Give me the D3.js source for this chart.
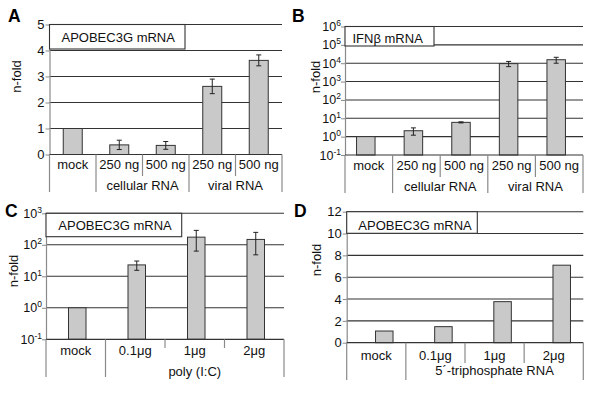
<!DOCTYPE html>
<html><head><meta charset="utf-8">
<script src="https://cdn.jsdelivr.net/npm/d3@7"></script>
<style>body{margin:0;background:#fff} text{font-family:"Liberation Sans",Arial,Helvetica,sans-serif;fill:#111}</style>
</head><body><svg id="c" width="600" height="402"></svg>
<script>
// ---- Data ----
const catsA = ["mock","250 ng","500 ng","250 ng","500 ng"];
const groupOfA = [0,1,1,2,2];
const groupLabelsA = ["","cellular RNA","viral RNA"];
const valuesA = [1,0.37,0.35,2.62,3.62];
const errorsA = [0,0.18,0.15,0.28,0.21];
const ticksA = [0,1,2,3,4,5];

const catsB = ["mock","250 ng","500 ng","250 ng","500 ng"];
const groupOfB = [0,1,1,2,2];
const groupLabelsB = ["","cellular RNA","viral RNA"];
const valuesB = [1,2.1,6.0,9500,15500];
const errorsB = [0,0.9,0.4,3000,5500];
const ticksB = [0.1,1,10,100,1000,10000,100000,1000000];
const tickExpB = ["-1","0","1","2","3","4","5","6"];

const catsC = ["mock","0.1μg","1μg","2μg"];
const groupOfC = [0,1,1,1];
const groupLabelsC = ["","poly (I:C)"];
const valuesC = [1,23,175,148];
const errorsC = [0,7.5,112,100];
const ticksC = [0.1,1,10,100,1000];
const tickExpC = ["-1","0","1","2","3"];

const catsD = ["mock","0.1μg","1μg","2μg"];
const groupOfD = [0,1,1,1];
const groupLabelsD = ["","5´-triphosphate RNA"];
const valuesD = [1.07,1.47,3.76,7.1];
const errorsD = [0,0,0,0];
const ticksD = [0,2,4,6,8,10,12];

// ---- Panels (layout/style) ----
const panels = [
 {letter:"A", lx:8, ly:22, x0:49.5, x1:282, yTop:24.5, yBot:154.5, log:false, domain:[0,5],
  ticks:ticksA, exps:null, cats:catsA, groups:groupOfA, glabels:groupLabelsA, values:valuesA, errors:errorsA,
  title:"APOBEC3G mRNA", box:[49.5,24.5,185,49], tx:61.5, ty:41.5, barW:19, shift:0,
  row1:168.5, row2:190, longBot:192, shortBot:176, nf:[16.5,76.5]},
 {letter:"B", lx:292, ly:22, x0:345, x1:583, yTop:26.5, yBot:155, log:true, domain:[0.1,1e6],
  ticks:ticksB, exps:tickExpB, cats:catsB, groups:groupOfB, glabels:groupLabelsB, values:valuesB, errors:errorsB,
  title:"IFNβ mRNA", box:[345,26.5,434,46], tx:352.5, ty:43, barW:18.5, shift:-3,
  row1:169.5, row2:191, longBot:193, shortBot:177, nf:[315,77]},
 {letter:"C", lx:5, ly:216.5, x0:46, x1:284, yTop:213.3, yBot:339.3, log:true, domain:[0.1,1000],
  ticks:ticksC, exps:tickExpC, cats:catsC, groups:groupOfC, glabels:groupLabelsC, values:valuesC, errors:errorsC,
  title:"APOBEC3G mRNA", box:[46,213.3,181.7,236.7], tx:58.3, ty:229.5, barW:17.5, shift:1.5,
  row1:355, row2:375.5, longBot:377, shortBot:348, nf:[13.5,271]},
 {letter:"D", lx:294, ly:216.5, x0:346.7, x1:583.3, yTop:211.7, yBot:342.7, log:false, domain:[0,12],
  ticks:ticksD, exps:null, cats:catsD, groups:groupOfD, glabels:groupLabelsD, values:valuesD, errors:errorsD,
  title:"APOBEC3G mRNA", box:[346.7,211.7,477.3,233.3], tx:358.3, ty:229.5, barW:17.5, shift:8,
  row1:359.5, row2:375, longBot:380, shortBot:363, nf:[316.5,260]}
];

const svg = d3.select("#c");
const GRID = "#333", AX = "#8a8a8a", FS = 13;

function drawPanel(p){
  const g = svg.append("g");
  const n = p.cats.length;
  const x = d3.scaleBand().domain(d3.range(n)).range([p.x0,p.x1]);
  const y = p.log ? d3.scaleLog().domain(p.domain).range([p.yBot,p.yTop])
                  : d3.scaleLinear().domain(p.domain).range([p.yBot,p.yTop]);

  // gridlines
  g.selectAll("line.grid").data(p.ticks.slice(1)).join("line").attr("class","grid")
    .attr("x1",p.x0).attr("x2",p.x1).attr("y1",d=>y(d)).attr("y2",d=>y(d))
    .attr("stroke",GRID).attr("stroke-width",1.1);

  // y axis
  const ag = g.append("g").attr("transform",`translate(${p.x0},0)`)
    .call(d3.axisLeft(y).tickValues(p.ticks).tickSize(4).tickSizeOuter(0).tickFormat(""));
  ag.select(".domain").attr("stroke",AX).attr("stroke-width",1.2);
  ag.selectAll(".tick line").attr("stroke",AX);

  // tick labels
  p.ticks.forEach((t,i)=>{
    if(p.exps){
      const tx = g.append("text").attr("x",p.x0-4).attr("y",y(t)+4.5)
        .attr("text-anchor","end").style("font-size","12.5px");
      tx.append("tspan").text("10");
      tx.append("tspan").attr("dy",-5).style("font-size","8.5px").text(p.exps[i]);
    } else {
      g.append("text").attr("x",p.x0-5).attr("y",y(t)).attr("dy","0.36em")
        .attr("text-anchor","end").style("font-size",FS+"px").text(t);
    }
  });

  // bars
  g.selectAll("rect.bar").data(p.values).join("rect").attr("class","bar")
    .attr("x",(d,i)=>x(i)+x.bandwidth()/2+p.shift-p.barW/2)
    .attr("width",p.barW)
    .attr("y",d=>y(d)).attr("height",d=>p.yBot-y(d))
    .attr("fill","#c9c9c9").attr("stroke","#333").attr("stroke-width",1);

  // error bars
  p.values.forEach((v,i)=>{
    const e = p.errors[i];
    if(!e) return;
    const cx = x(i)+x.bandwidth()/2+p.shift;
    const yh = y(v+e), yl = y(v-e);
    g.append("line").attr("x1",cx).attr("x2",cx).attr("y1",yh).attr("y2",yl).attr("stroke","#222").attr("stroke-width",1);
    [yh,yl].forEach(yy=>g.append("line").attr("x1",cx-2.5).attr("x2",cx+2.5).attr("y1",yy).attr("y2",yy).attr("stroke","#222").attr("stroke-width",1));
  });

  // bottom axis line
  g.append("line").attr("x1",p.x0).attr("x2",p.x1).attr("y1",p.yBot).attr("y2",p.yBot)
    .attr("stroke",GRID).attr("stroke-width",1.2);

  // category separators
  for(let i=0;i<=n;i++){
    const xx = i<n ? x(i) : p.x1;
    const long = i===0 || i===n || p.groups[i]!==p.groups[i-1];
    g.append("line").attr("x1",xx).attr("x2",xx).attr("y1",p.yBot).attr("y2",long?p.longBot:p.shortBot)
      .attr("stroke",AX).attr("stroke-width",1.2);
  }

  // category labels
  p.cats.forEach((c,i)=>{
    g.append("text").attr("x",x(i)+x.bandwidth()/2).attr("y",p.row1)
      .attr("text-anchor","middle").style("font-size",FS+"px").text(c);
  });
  // group labels
  p.glabels.forEach((lab,gi)=>{
    if(!lab) return;
    const idx = d3.range(n).filter(i=>p.groups[i]===gi);
    const cx = (x(idx[0]) + x(idx[idx.length-1]) + x.bandwidth())/2;
    g.append("text").attr("x",cx).attr("y",p.row2).attr("text-anchor","middle")
      .style("font-size",FS+"px").text(lab);
  });

  // title box
  const b = p.box;
  g.append("rect").attr("x",b[0]).attr("y",b[1]).attr("width",b[2]-b[0]).attr("height",b[3]-b[1])
    .attr("fill","#fff").attr("stroke","#333").attr("stroke-width",1.1);
  g.append("text").attr("x",p.tx).attr("y",p.ty).style("font-size",FS+"px").text(p.title);

  // y label
  g.append("text").attr("transform",`translate(${p.nf[0]},${p.nf[1]}) rotate(-90)`)
    .attr("text-anchor","middle").attr("dy","0.35em").style("font-size",FS+"px").text("n-fold");

  // panel letter
  g.append("text").attr("x",p.lx).attr("y",p.ly).style("font-size","17.5px")
    .style("font-weight","bold").style("fill","#000").text(p.letter);
}

panels.forEach(drawPanel);
</script></body></html>
